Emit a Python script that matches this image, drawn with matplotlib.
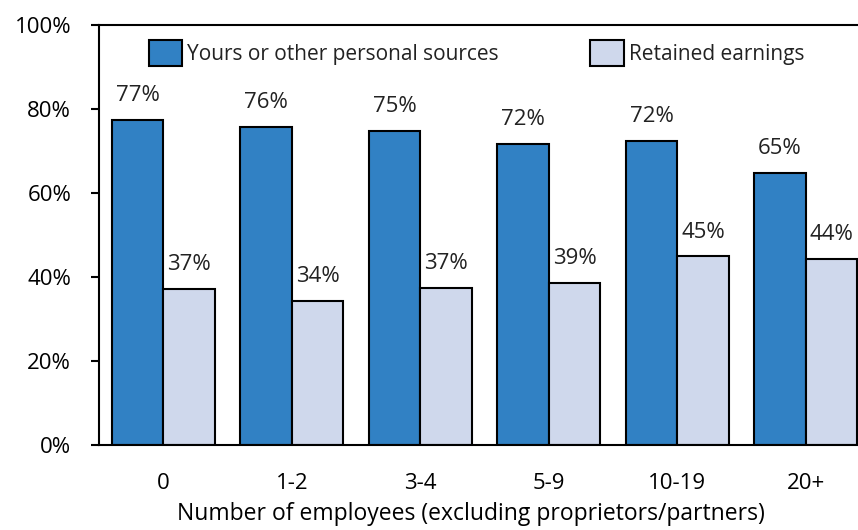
import numpy as np
import matplotlib.pyplot as plt

# Chart data
categories = ['0', '1-2', '3-4', '5-9', '10-19', '20+']
personal = [77.3, 75.7, 74.8, 71.6, 72.4, 64.8]
retained = [37.2, 34.3, 37.3, 38.6, 44.9, 44.2]
series_names = ['Yours or other personal sources', 'Retained earnings']

plt.rcParams['font.family'] = ['Open Sans', 'DejaVu Sans']
plt.rcParams['text.color'] = '#222222'

fig = plt.figure(figsize=(8.58, 5.30), dpi=100)
ax = fig.add_axes([99 / 858, 85 / 530, 771 / 858, 420 / 530])

x = np.arange(len(categories))
w = 0.4
b1 = ax.bar(x - w / 2, personal, w, color='#3181c4', edgecolor='black',
            linewidth=1.5, label=series_names[0])
b2 = ax.bar(x + w / 2, retained, w, color='#cfd8ec', edgecolor='black',
            linewidth=1.5, label=series_names[1])

fs = 16
ax.bar_label(b1, labels=['%d%%' % round(v) for v in personal], padding=10, fontsize=fs)
ax.bar_label(b2, labels=['%d%%' % round(v) for v in retained], padding=10, fontsize=fs)

ax.set_xlim(-0.5, len(categories) - 0.5)
ax.set_ylim(0, 100)
ax.set_yticks(range(0, 101, 20))
ax.set_yticklabels(['%d%%' % t for t in range(0, 101, 20)])
ax.set_xticks(x)
ax.set_xticklabels(categories)
ax.tick_params(axis='y', length=6, width=1.5, pad=14, labelsize=fs)
ax.tick_params(axis='x', length=0, pad=20, labelsize=fs)
ax.set_xlabel('Number of employees (excluding proprietors/partners)', fontsize=16.5)
ax.xaxis.set_label_coords(0.4825, -0.135)

for s in ['left', 'bottom', 'top']:
    ax.spines[s].set_linewidth(1.5)
ax.spines['right'].set_visible(False)

ax.legend(loc='upper left', bbox_to_anchor=(0.04, 1.01), ncol=2, frameon=False,
          fontsize=15, handlelength=1.6, handleheight=1.6, handletextpad=0.25,
          columnspacing=4.4)

fig.savefig('out.png', dpi=100)
